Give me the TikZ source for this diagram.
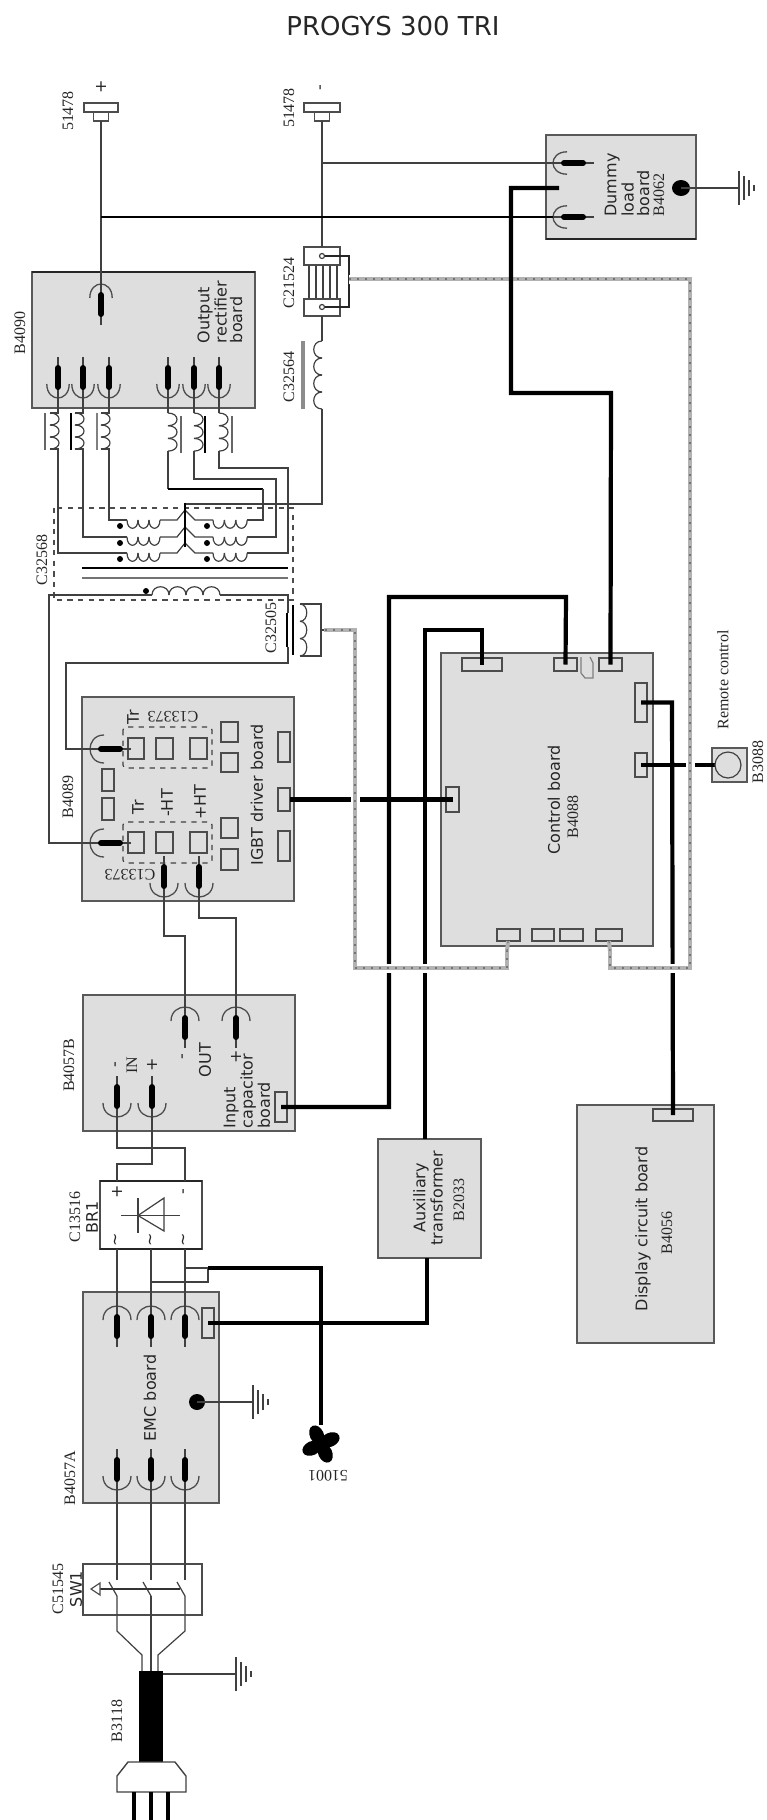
\documentclass[tikz,border=0pt]{standalone}
\usepackage{fontspec}
\setmainfont{Liberation Serif}
\setsansfont{DejaVu Sans}
\newlength\pxu
\setlength\pxu{0.02cm}
\tikzset{
	board/.style 2 args={shape=rectangle, draw=black!65, fill=black!13, line width=1.2\pxu, inner sep=0, outer sep=0, minimum width=#1\pxu, minimum height=#2\pxu},
	plainbox/.style 2 args={shape=rectangle, draw=black!70, fill=white, line width=1.2\pxu, inner sep=0, outer sep=0, minimum width=#1\pxu, minimum height=#2\pxu},
	conn/.style 2 args={shape=rectangle, draw=black!70, fill=black!13, line width=1.4\pxu, inner sep=0, outer sep=0, minimum width=#1\pxu, minimum height=#2\pxu},
	wire/.style={draw=black!75, line width=1.2\pxu},
	power/.style={draw=black, line width=2.6\pxu},
	signal/.style={draw=black, line width=4.2\pxu},
	shieldline/.style={draw=black!30, line width=4\pxu, postaction={draw=black!55, line width=1.2\pxu, dash pattern=on 2\pxu off 6\pxu}},
	shield/.style={preaction={draw=white, line width=9\pxu}, shieldline},
	sidetext/.style={rotate=90, inner sep=0, align=left, font=\sffamily\fontsize{9.1}{8.8}\selectfont, text=black!85},
	partno/.style={rotate=90, inner sep=0, font=\rmfamily\fontsize{9.1}{10}\selectfont, text=black!85},
	pics/socket/.style={code={
		\coordinate (-tip) at (0,0);
		\draw[draw=black!70, line width=1.3\pxu] (-14,14) .. controls (-14,4) and (-6,0) .. (0,0) .. controls (6,0) and (14,4) .. (14,14);
		\draw[wire] (0,0) -- (0,41);
		\draw[draw=black, line width=6\pxu, line cap=round] (0,11) -- (0,30);
	}},
	pics/coil/.style n args={3}{code={
		\foreach \k in {1,...,#1} {
			\draw[wire] (0,{(\k-1)*#2}) .. controls (#3,{(\k-1)*#2}) and (#3,{\k*#2}) .. (0,{\k*#2});
		}
	}},
	pics/gnd/.style={code={
		\coordinate (-tip) at (0,0);
		\draw[wire] (0,-17) -- (0,17);
		\draw[wire] (5,-12) -- (5,12);
		\draw[wire] (10,-8) -- (10,8);
		\draw[wire] (15,-3) -- (15,3);
	}},
}
\begin{document}
\begin{tikzpicture}[x=\pxu, y=-\pxu]
	\useasboundingbox (0,0) rectangle (767,1820);
	
	\node (title) at (393,26) [inner sep=0, font=\sffamily\fontsize{14.8}{16}\selectfont, text=black!85] {PROGYS 300 TRI};
	
	% boards
	\node (b4062) [board={150}{104}] at (621,187) {};
	\node (b4090) [board={223}{136}] at (143.5,340) {};
	\node (b4089) [board={212}{204}] at (188,799) {};
	\node (b4057b) [board={212}{136}] at (189,1063) {};
	\node (b4057a) [board={136}{211}] at (151,1397.5) {};
	\node (b4088) [board={212}{293}] at (547,799.5) {};
	\node (b2033) [board={103}{119}] at (429.5,1198.5) {};
	\node (b4056) [board={137}{238}] at (645.5,1224) {};
	\node (b3088) [board={35}{34}] at (729.5,765) {};
	\node (br1) [plainbox={102}{68}] at (151,1215) {};
	\node (sw1) [plainbox={119}{51}] at (142.5,1589.5) {};
	\draw[draw=black!85, line width=2\pxu] (b4090.north west) -- (b4090.north east);
	\draw[draw=black!85, line width=2\pxu] (b4062.south west) -- (b4062.south east);
	\draw[draw=black!85, line width=1.4\pxu] (br1.north west) -- (br1.north east);
	\draw[draw=black!85, line width=1.4\pxu] (br1.south west) -- (br1.south east);
	
	% connectors on the boards
	\node (cd1) [conn={12}{30}] at (284,747) {};
	\node (cd2) [conn={12}{23}] at (284,799.5) {};
	\node (cd3) [conn={12}{30}] at (284,846) {};
	\node (cd4) [conn={17}{20}] at (229.5,732) {};
	\node (cd5) [conn={17}{19}] at (229.5,762.5) {};
	\node (cd6) [conn={17}{20}] at (229.5,828) {};
	\node (cd7) [conn={17}{21}] at (229.5,859.5) {};
	\node (cd8) [conn={12}{22}] at (108,780) {};
	\node (cd9) [conn={12}{22}] at (108,809) {};
	\node (ci1) [conn={12}{30}] at (281,1107) {};
	\node (ce1) [conn={12}{30}] at (208,1323) {};
	\node (cc1) [conn={40}{13}] at (482,664.5) {};
	\node (cc2) [conn={23}{13}] at (565.5,664.5) {};
	\node (cc3) [conn={23}{13}] at (610.5,664.5) {};
	\node (cc4) [conn={12}{39}] at (641,702.5) {};
	\node (cc5) [conn={12}{24}] at (641,765) {};
	\node (cc6) [conn={13}{25}] at (452.5,799.5) {};
	\node (cc7) [conn={23}{12}] at (508.5,935) {};
	\node (cc8) [conn={22}{12}] at (543,935) {};
	\node (cc9) [conn={23}{12}] at (571.5,935) {};
	\node (cc10) [conn={26}{12}] at (609,935) {};
	\node (cs1) [conn={40}{12}] at (673,1115) {};
	\draw[draw=black!50, line width=1.2\pxu] (581,657) -- (581,673) -- (585,678) -- (593,678) -- (593,663) -- (590,657);
	
	% IGBT modules
	\draw[dashed, rounded corners=3\pxu, draw=black!75, line width=1.2\pxu] (123,727) rectangle (212,768);
	\draw[dashed, rounded corners=3\pxu, draw=black!75, line width=1.2\pxu] (123,822) rectangle (212,863);
	\node (m1) [conn={16}{21}] at (136,748.5) {};
	\node (m2) [conn={17}{21}] at (164.5,748.5) {};
	\node (m3) [conn={17}{21}] at (198.5,748.5) {};
	\node (m4) [conn={16}{21}] at (136,842.5) {};
	\node (m5) [conn={17}{21}] at (164.5,842.5) {};
	\node (m6) [conn={17}{21}] at (198.5,842.5) {};
	
	% sockets
	\pic[xscale=.8] (so0) at (101,284) {socket};
	\pic[rotate=180,xscale=.8] (so1) at (58,398) {socket};
	\pic[rotate=180,xscale=.8] (so2) at (83,398) {socket};
	\pic[rotate=180,xscale=.8] (so3) at (109,398) {socket};
	\pic[rotate=180,xscale=.8] (so4) at (168,398) {socket};
	\pic[rotate=180,xscale=.8] (so5) at (194,398) {socket};
	\pic[rotate=180,xscale=.8] (so6) at (219,398) {socket};
	\pic[rotate=90,xscale=.8] (sl1) at (553,163) {socket};
	\pic[rotate=90,xscale=.8] (sl2) at (553,217) {socket};
	\pic[rotate=90] (sd1) at (90,749) {socket};
	\pic[rotate=90] (sd2) at (90,843) {socket};
	\pic[rotate=180] (sd3) at (164,897) {socket};
	\pic[rotate=180] (sd4) at (199,897) {socket};
	\pic (sc1) at (185,1007) {socket};
	\pic (sc2) at (236,1007) {socket};
	\pic[rotate=180] (sc3) at (117,1117) {socket};
	\pic[rotate=180] (sc4) at (152,1117) {socket};
	\pic (se1) at (117,1306) {socket};
	\pic (se2) at (151,1306) {socket};
	\pic (se3) at (185,1306) {socket};
	\pic[rotate=180] (se4) at (117,1490) {socket};
	\pic[rotate=180] (se5) at (151,1490) {socket};
	\pic[rotate=180] (se6) at (185,1490) {socket};
	
	% output terminals
	\node (tp1) [plainbox={34}{9}] at (101,107.5) {};
	\node (tp2) [plainbox={15}{9}] at (101,116.5) {};
	\node (tm1) [plainbox={36}{9}] at (322,107.5) {};
	\node (tm2) [plainbox={15}{9}] at (322,116.5) {};
	
	% shunt
	\foreach \x in {309,316,323,330,337} {
		\draw[wire] (\x,265) -- (\x,299);
	}
	\node (sh1) [plainbox={36}{18}] at (322,256) {};
	\node (sh2) [plainbox={36}{17}] at (322,307.5) {};
	\draw[wire] (322,256) circle[radius=2.5];
	\draw[wire] (322,307) circle[radius=2.5];
	\draw[draw=black!85, line width=1.6\pxu] (324.5,256) -- (349,256) -- (349,307) -- (324.5,307);
	
	% output wiring
	\draw[wire] (tp2.south) -- (so0-tip);
	\draw[wire] (tm2.south) -- (sh1.north);
	\draw[wire] (322,163) -- (sl1-tip);
	\draw[power] (101,217) -- (sl2-tip);
	\draw[wire] (sh2.south) -- (322,341);
	\draw[wire] (322,409) -- (322,504) -- (185,504);
	\pic at (322,341) {coil={4}{17}{-11}};
	\draw[draw=black!45, line width=3.5\pxu] (303,341) -- (303,409);
	
	% output chokes
	\foreach \s/\x/\c/\w in {so1/58/45/black!60,so2/83/71/black,so3/109/97/black!50} {
		\draw[wire] (\s-tip) -- (\x,413) -- (50+\x-58,413);
		\draw[wire] (50+\x-58,449) -- (\x,449) -- (\x,460);
		\pic at (50+\x-58,413) {coil={3}{12}{12}};
		\draw[draw=\w, line width=2.4\pxu] (\c,413) -- (\c,450);
	}
	\foreach \s/\x/\c/\w in {so4/168/181/black!60,so5/194/205/black,so6/219/232/black!60} {
		\draw[wire] (\s-tip) -- (\x,413);
		\pic at (\x,413) {coil={3}{12.7}{12}};
		\draw[draw=\w, line width=2.4\pxu] (\c,416) -- (\c,453);
	}
	
	% transformer
	\draw[dashed, draw=black!70, line width=1.2\pxu] (54,508) rectangle (293,600);
	\draw[wire] (58,460) -- (58,553) -- (127,553);
	\draw[wire] (83,460) -- (83,537) -- (127,537);
	\draw[wire] (109,460) -- (109,520) -- (127,520);
	\draw[wire] (168,451) -- (168,489);
	\draw[power] (168,489) -- (263,489);
	\draw[wire] (263,489) -- (263,520) -- (247,520);
	\draw[wire] (194,451) -- (194,479) -- (276,479) -- (276,537) -- (247,537);
	\draw[wire] (219,451) -- (219,468) -- (288,468) -- (288,553) -- (247,553);
	\foreach \y in {520,537,553} {
		\pic[rotate=90] at (127,\y) {coil={3}{11}{-11}};
		\pic[rotate=90] at (213,\y) {coil={3}{11.4}{-11}};
		\draw[wire] (160,\y) -- (177,\y) -- (185,\y-10);
		\draw[wire] (185,\y-10) -- (195,\y) -- (213,\y);
		\fill[black] (120,\y+6) circle[radius=3];
		\fill[black] (207,\y+6) circle[radius=3];
	}
	\draw[draw=black, line width=2.6\pxu] (185,503) -- (185,547);
	\draw[draw=black, line width=2\pxu] (82,568) -- (288,568);
	\draw[draw=black!55, line width=1.2\pxu] (82,578) -- (288,578);
	\pic[rotate=90] at (152,595) {coil={4}{17}{11}};
	\fill[black] (146,591) circle[radius=3];
	\draw[wire] (152,595) -- (49,595) -- (49,843) -- (sd2-tip);
	\draw[wire] (220,595) -- (288,595) -- (288,613);
	\draw[wire] (288,647) -- (288,663) -- (66,663) -- (66,749) -- (sd1-tip);
	
	% C32505
	\draw[draw=black, line width=2\pxu] (287,613) -- (287,647);
	\draw[draw=black, line width=2\pxu] (293,605) -- (293,655);
	\draw[wire] (300,604) -- (321,604) -- (321,656) -- (300,656);
	\pic at (300,604) {coil={3}{17.3}{9}};
	
	% power wiring
	\draw[wire, line width=1.6\pxu] (sd3-tip) -- (164,936) -- (185,936) -- (sc1-tip);
	\draw[wire, line width=1.6\pxu] (sd4-tip) -- (199,918) -- (236,918) -- (sc2-tip);
	\draw[wire, line width=1.6\pxu] (sc3-tip) -- (117,1148) -- (185,1148) -- (185,0 |- br1.north);
	\draw[wire, line width=1.6\pxu] (sc4-tip) -- (152,1164) -- (117,1164) -- (117,0 |- br1.north);
	\draw[wire] (117,0 |- br1.south) -- (se1-tip);
	\draw[wire] (151,0 |- br1.south) -- (se2-tip);
	\draw[wire] (185,0 |- br1.south) -- (se3-tip);
	\draw[wire] (se4-tip) -- (117,1580);
	\draw[wire] (se5-tip) -- (151,1580);
	\draw[wire] (se6-tip) -- (185,1580);
	
	% switch
	\foreach \x in {117,151,185} {
		\draw[wire] (\x-8,1582) -- (\x,1596);
	}
	\draw[draw=black!80, line width=1.8\pxu] (180,1589) -- (100,1589);
	\draw[draw=black!70, line width=1.2\pxu, fill=white] (100,1583) -- (91,1589) -- (100,1595) -- cycle;
	
	% power cord
	\node (cable) [shape=rectangle, fill=black, inner sep=0, outer sep=0, minimum width=24\pxu, minimum height=91\pxu] at (151,1716.5) {};
	\draw[wire] (117,1596) -- (117,1631) -- (142,1655) -- (142,1671);
	\draw[wire] (151,1596) -- (151,1671);
	\draw[wire] (185,1596) -- (185,1631) -- (158,1655) -- (158,1671);
	\pic (gc) at (236,1674) {gnd};
	\draw[wire] (cable.east |- gc-tip) -- (gc-tip);
	\draw[draw=black!75, line width=1.4\pxu, fill=white] (128,1762) -- (117,1776) -- (117,1792) -- (186,1792) -- (186,1776) -- (175,1762) -- cycle;
	\foreach \x in {134,151,168} {
		\draw[draw=black, line width=4\pxu] (\x,1792) -- (\x,1820);
	}
	
	% rectifier symbol
	\draw[wire] (121,1215.5) -- (180,1215.5);
	\draw[wire] (138,1198) -- (138,1233);
	\draw[wire] (138,1215.5) -- (164,1198) -- (164,1231) -- cycle;
	\node (rp) [sidetext] at (117,1192) {+};
	\node (rm) [sidetext] at (185,1192) {-};
	\foreach \x in {117,152,185} {
		\node (rt\x) [sidetext] at (\x,1240) {\textasciitilde};
	}
	
	% ground points
	\pic (gl) at (739,188) {gnd};
	\fill[black] (681,188) ellipse[x radius=9, y radius=8];
	\draw[wire, line width=1.6\pxu] (681,188) -- (gl-tip);
	\pic (ge) at (253,1402) {gnd};
	\fill[black] (197,1402) circle[radius=8];
	\draw[wire] (197,1402) -- (ge-tip);
	
	% fan
	\coordinate (fan) at (321,1425);
	\foreach \a in {25,115,205,295} {
		\fill[black, shift={(321,1444)}, rotate=\a] (10,0) ellipse[x radius=10, y radius=7];
	}
	\draw[wire] (185,1268) -- (208,1268);
	\draw[wire] (151,1282) -- (208,1282) -- (208,1268);
	\draw[signal] (208,1268) -- (321,1268) -- (fan);
	
	% control wiring
	\draw[signal] (cd2.east) -- (cc6.center);
	\draw[signal] (ci1.center) -- (389,1107) -- (389,597) -- (566,597) -- (cc2.center);
	\draw[signal] (425,0 |- b2033.north) -- (425,630) -- (482,630) -- (cc1.center);
	\draw[signal] (ce1.center) -- (427,1323) -- (427,0 |- b2033.south);
	\draw[signal] (cc4.center) -- (672,702.5) -- (cs1.center);
	\draw[signal] (cc5.center) -- (b3088.center);
	
	% shielded leads
	\draw[shield] (349,279) -- (690,279) -- (690,968) -- (610,968) -- (610,950);
	\draw[shield] (507,950) -- (507,968) -- (355,968) -- (355,630) -- (324,630);
	\draw[shieldline] (610,951) -- (609,941);
	\draw[shieldline] (507,951) -- (508,941);
	\draw[wire] (321,630) -- (324,630);
	
	\draw[signal] (559,188) -- (511,188) -- (511,393) -- (611,393) -- (cc3.center);
	\node (knob) [shape=circle, draw=black!75, fill=black!13, line width=1.2\pxu, inner sep=0, minimum size=26\pxu] at (728,765) {};
	
	% texts on the boards
	\node (t1) [sidetext] at (627,185) {Dummy\\load\\board};
	\node (t2) [partno] at (659,195) {B4062};
	\node (t3) [sidetext] at (220,312) {Output\\rectifier\\board};
	\node (t4) [sidetext] at (257,795) {IGBT driver board};
	\node (t5) [sidetext] at (247,1091) {Input\\capacitor\\board};
	\node (t6) [sidetext] at (150,1398) {EMC board};
	\node (t7) [sidetext, align=center] at (428,1198) {Auxiliary\\transformer};
	\node (t8) [partno] at (459,1200) {B2033};
	\node (t9) [sidetext] at (643,1229) {Display circuit board};
	\node (t10) [partno] at (667,1233) {B4056};
	\node (t11) [sidetext] at (554,800) {Control board};
	\node (t12) [partno] at (573,817) {B4088};
	
	\node (t13) [sidetext] at (133,717) {Tr};
	\node (t14) [partno, rotate=90] at (173,717) {C13373};
	\node (t15) [sidetext] at (138,807) {Tr};
	\node (t16) [sidetext] at (167,803) {-HT};
	\node (t17) [sidetext] at (200,802) {+HT};
	\node (t18) [partno, rotate=90] at (130,875) {C13373};
	\node (t19) [sidetext] at (205,1060) {OUT};
	\node (t20) [sidetext] at (184,1057) {-};
	\node (t21) [sidetext] at (236,1057) {+};
	\node (t22) [sidetext] at (117,1065) {-};
	\node (t23) [partno] at (132,1065) {IN};
	\node (t24) [sidetext] at (152,1065) {+};
	
	% part numbers beside the boards
	\node (l1) [sidetext] at (101,87) {+};
	\node (l2) [sidetext] at (322,88) {-};
	\node (l3) [partno] at (68,111) {51478};
	\node (l4) [partno] at (289,108) {51478};
	\node (l5) [partno] at (289,283) {C21524};
	\node (l6) [partno] at (289,377) {C32564};
	\node (l7) [partno] at (20,333) {B4090};
	\node (l8) [partno] at (42,560) {C32568};
	\node (l9) [partno] at (271,628) {C32505};
	\node (l10) [partno] at (68,797) {B4089};
	\node (l11) [partno] at (69,1065) {B4057B};
	\node (l12) [partno] at (75,1217) {C13516};
	\node (l13) [sidetext] at (92,1217) {BR1};
	\node (l14) [partno] at (70,1478) {B4057A};
	\node (l15) [partno, rotate=90] at (328,1476) {51001};
	\node (l16) [partno] at (58,1589) {C51545};
	\node (l17) [sidetext] at (76,1589) {SW1};
	\node (l18) [partno] at (117,1721) {B3118};
	\node (l19) [partno] at (723,680) {Remote control};
	\node (l20) [partno] at (758,762) {B3088};
\end{tikzpicture}
\end{document}
